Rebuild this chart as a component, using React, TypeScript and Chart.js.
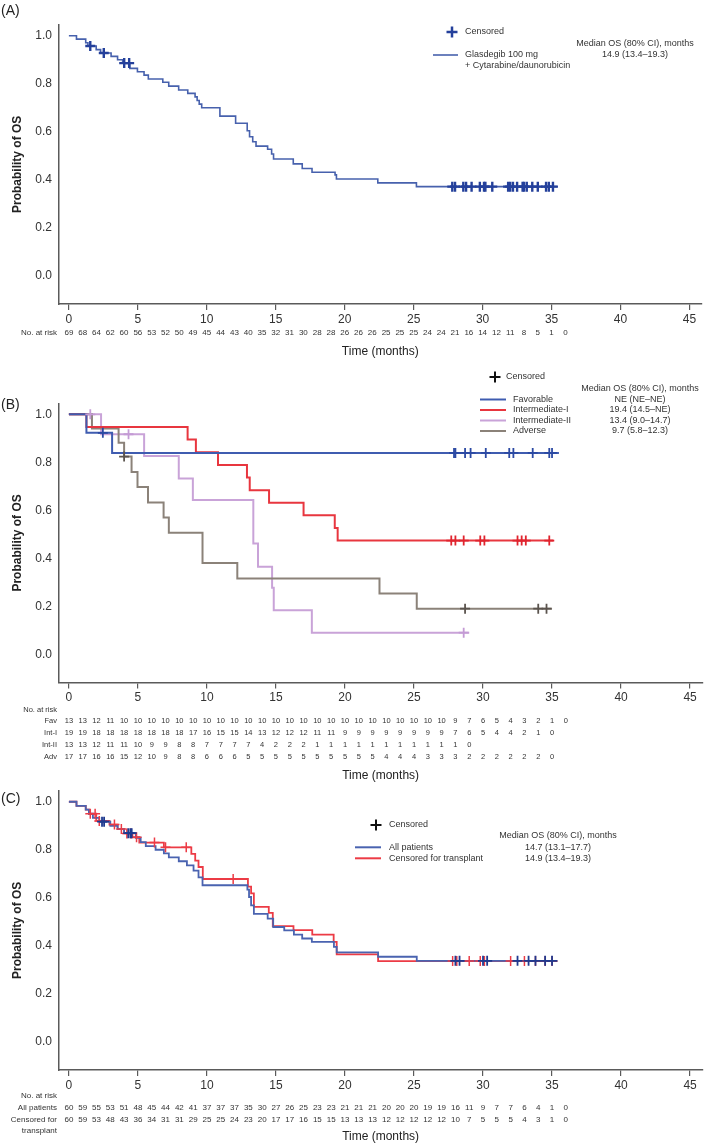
import React, { useEffect, useRef } from "react";
import { Chart, registerables } from "chart.js";

Chart.register(...registerables);

const FONT = "'Liberation Sans', Arial, Helvetica, sans-serif";
Chart.defaults.font.family = FONT;

// ---------------- shared ticks ----------------
const X_TICKS = [0, 5, 10, 15, 20, 25, 30, 35, 40, 45];
const Y_TICKS = [0, 0.2, 0.4, 0.6, 0.8, 1.0];

// ---------------- Panel A: Glasdegib + cytarabine/daunorubicin ----------------
const A_TIMES = [0, 0.55, 1.22, 1.38, 1.98, 2.3, 3.06, 3.53, 3.9, 4.42, 4.97, 5.45, 5.76, 6.81, 7.24, 7.96, 8.62, 9.15, 9.3, 9.45, 9.63, 10.95, 12.09, 12.93, 13.1, 13.33, 13.57, 14.41, 14.7, 14.84, 16.27, 16.92, 17.63, 19.3, 19.4, 22.4, 25.2, 35.4];
const A_SURV = [1.0, 0.986, 0.971, 0.957, 0.942, 0.928, 0.914, 0.9, 0.886, 0.864, 0.85, 0.836, 0.82, 0.806, 0.79, 0.774, 0.76, 0.745, 0.73, 0.715, 0.7, 0.665, 0.635, 0.604, 0.579, 0.558, 0.54, 0.527, 0.507, 0.486, 0.466, 0.447, 0.431, 0.42, 0.403, 0.387, 0.371, 0.371];
const A_CENSOR = [1.55, 2.53, 4.01, 4.37, 27.8, 28.0, 28.6, 28.8, 29.2, 29.8, 30.1, 30.2, 30.7, 31.85, 32.0, 32.2, 32.5, 32.9, 33.0, 33.2, 33.6, 34.0, 34.6, 34.8, 35.1];
const A_AT_RISK = [69, 68, 64, 62, 60, 56, 53, 52, 50, 49, 45, 44, 43, 40, 35, 32, 31, 30, 28, 28, 26, 26, 26, 25, 25, 25, 24, 24, 21, 16, 14, 12, 11, 8, 5, 1, 0];

// ---------------- Panel B: by cytogenetic risk ----------------
const FAV_TIMES = [0, 1.27, 3.13, 35.5];
const FAV_SURV = [1.0, 0.923, 0.839, 0.839];
const FAV_CENSOR = [2.46, 27.9, 28.0, 28.7, 29.1, 30.2, 31.9, 32.2, 33.6, 34.8, 35.0];
const FAV_AT_RISK = [13, 13, 12, 11, 10, 10, 10, 10, 10, 10, 10, 10, 10, 10, 10, 10, 10, 10, 10, 10, 10, 10, 10, 10, 10, 10, 10, 10, 9, 7, 6, 5, 4, 3, 2, 1, 0];

const INT1_TIMES = [0, 1.27, 8.6, 9.2, 10.8, 12.9, 13.1, 14.5, 17.0, 19.26, 19.47, 35.1];
const INT1_SURV = [1.0, 0.947, 0.895, 0.842, 0.789, 0.737, 0.684, 0.632, 0.579, 0.526, 0.474, 0.474];
const INT1_CENSOR = [27.7, 28.0, 28.6, 29.8, 30.1, 32.5, 32.8, 33.1, 34.8];
const INT1_AT_RISK = [19, 19, 18, 18, 18, 18, 18, 18, 18, 17, 16, 15, 15, 14, 13, 12, 12, 12, 11, 11, 9, 9, 9, 9, 9, 9, 9, 9, 7, 6, 5, 4, 4, 2, 1, 0];

const INT2_TIMES = [0, 2.33, 5.45, 7.96, 8.98, 13.36, 13.7, 14.72, 14.84, 17.6, 29.0];
const INT2_SURV = [1.0, 0.917, 0.826, 0.733, 0.643, 0.462, 0.365, 0.277, 0.184, 0.09, 0.09];
const INT2_CENSOR = [1.55, 4.32, 28.6];
const INT2_AT_RISK = [13, 13, 12, 11, 11, 10, 9, 9, 8, 8, 7, 7, 7, 7, 4, 2, 2, 2, 1, 1, 1, 1, 1, 1, 1, 1, 1, 1, 1, 0];

const ADV_TIMES = [0, 1.67, 3.6, 4.0, 4.54, 4.97, 5.73, 6.86, 7.24, 9.68, 12.2, 22.5, 25.2, 35.0];
const ADV_SURV = [1.0, 0.941, 0.882, 0.824, 0.76, 0.697, 0.633, 0.57, 0.506, 0.38, 0.316, 0.253, 0.19, 0.19];
const ADV_CENSOR = [4.0, 28.7, 34.0, 34.6];
const ADV_AT_RISK = [17, 17, 16, 16, 15, 12, 10, 9, 8, 8, 6, 6, 6, 5, 5, 5, 5, 5, 5, 5, 5, 5, 5, 4, 4, 4, 3, 3, 3, 2, 2, 2, 2, 2, 2, 0];

// ---------------- Panel C: all patients vs censored for transplant ----------------
const ALL_TIMES = [0, 0.55, 1.22, 1.45, 1.74, 2.2, 3.0, 3.53, 4.0, 4.85, 5.2, 5.57, 6.28, 6.88, 7.24, 7.96, 8.55, 9.03, 9.39, 9.68, 12.93, 13.05, 13.2, 13.4, 14.4, 14.8, 15.6, 16.3, 16.9, 17.6, 19.2, 19.4, 22.4, 25.2, 35.4];
const ALL_SURV = [1.0, 0.983, 0.967, 0.95, 0.933, 0.917, 0.9, 0.886, 0.869, 0.85, 0.832, 0.815, 0.8, 0.785, 0.768, 0.752, 0.735, 0.713, 0.685, 0.652, 0.634, 0.603, 0.568, 0.533, 0.513, 0.478, 0.464, 0.446, 0.43, 0.416, 0.395, 0.372, 0.354, 0.337, 0.337];
const ALL_CENSOR = [2.4, 2.55, 4.3, 4.45, 4.55, 28.0, 28.3, 30.0, 30.3, 32.5, 33.3, 33.8, 34.5, 35.0];
const ALL_AT_RISK = [60, 59, 55, 53, 51, 48, 45, 44, 42, 41, 37, 37, 37, 35, 30, 27, 26, 25, 23, 23, 21, 21, 21, 20, 20, 20, 19, 19, 16, 11, 9, 7, 7, 6, 4, 1, 0];

const TX_TIMES = [0, 0.55, 1.22, 1.45, 1.98, 2.94, 3.53, 4.0, 4.6, 5.1, 6.88, 8.87, 9.15, 9.39, 9.7, 12.97, 13.2, 13.4, 14.48, 14.77, 16.27, 17.63, 19.18, 19.4, 22.4, 35.4];
const TX_SURV = [1.0, 0.983, 0.967, 0.95, 0.92, 0.905, 0.886, 0.868, 0.852, 0.83, 0.81, 0.783, 0.755, 0.728, 0.678, 0.646, 0.618, 0.562, 0.537, 0.482, 0.465, 0.446, 0.416, 0.364, 0.336, 0.336];
const TX_CENSOR = [1.55, 1.9, 2.2, 3.3, 3.8, 4.2, 4.5, 4.9, 6.2, 7.0, 8.5, 11.9, 27.8, 28.1, 29.0, 29.8, 30.1, 32.0, 33.0, 33.8, 34.5, 35.0];
const TX_AT_RISK = [60, 59, 53, 48, 43, 36, 34, 31, 31, 29, 25, 25, 24, 23, 20, 17, 17, 16, 15, 15, 13, 13, 13, 12, 12, 12, 12, 12, 10, 7, 5, 5, 5, 4, 3, 1, 0];

// ---------------- helpers ----------------
function stepValue(times: number[], surv: number[], t: number) {
  let v = surv[0];
  for (let i = 0; i < times.length; i++) if (times[i] <= t) v = surv[i];
  return v;
}

type Curve = {
  times: number[]; surv: number[]; censor: number[];
  color: string; censorColor: string; width: number; censorWidth: number; censorSize: number;
};
type RiskRow = { label: string[]; values: number[]; y: number };
type Panel = {
  top: number; height: number; areaTop: number; areaBottom: number;
  tag: string; tagY: number;
  curves: Curve[];
  riskHeaderY: number; riskFont: number; risk: RiskRow[]; timeY: number;
  legend: (ctx: CanvasRenderingContext2D, o: number) => void;
};

const X_MIN = -10 / 13.95;
const X_MAX = X_MIN + 650 / 13.95;
const Y_MIN = -0.118;
const Y_MAX = 1.046;
const AXIS = "#5a5a5a";
const TEXT = "#333";

function cross(ctx: CanvasRenderingContext2D, x: number, y: number, r: number, color: string, w: number) {
  ctx.strokeStyle = color; ctx.lineWidth = w; ctx.beginPath();
  ctx.moveTo(x - r, y); ctx.lineTo(x + r, y); ctx.moveTo(x, y - r); ctx.lineTo(x, y + r); ctx.stroke();
}
function seg(ctx: CanvasRenderingContext2D, x1: number, x2: number, y: number, color: string, w: number) {
  ctx.strokeStyle = color; ctx.lineWidth = w; ctx.beginPath(); ctx.moveTo(x1, y); ctx.lineTo(x2, y); ctx.stroke();
}
function txt(ctx: CanvasRenderingContext2D, s: string, x: number, y: number, align: CanvasTextAlign = "left", size = 9) {
  ctx.fillStyle = TEXT; ctx.font = `${size}px ${FONT}`; ctx.textAlign = align; ctx.textBaseline = "middle";
  ctx.fillText(s, x, y);
}

const C_BLUE_A = "#4761ad";
const C_FAV = "#3f5cb0";
const C_INT1 = "#e8363f";
const C_INT2 = "#c9a3d8";
const C_ADV = "#8b8279";
const C_ALL = "#4a63b0";
const C_TX = "#ec3b45";

const PANELS: Panel[] = [
  {
    top: 0, height: 365, areaTop: 24.7, areaBottom: 304,
    tag: "(A)", tagY: 11,
    curves: [
      { times: A_TIMES, surv: A_SURV, censor: A_CENSOR, color: C_BLUE_A, censorColor: "#24409b", width: 1.6, censorWidth: 2.4, censorSize: 5 },
    ],
    riskHeaderY: 333, riskFont: 8,
    risk: [{ label: [], values: A_AT_RISK, y: 333 }],
    timeY: 352,
    legend: (ctx, o) => {
      cross(ctx, 452, 32 - o, 5.5, "#24409b", 2.5);
      txt(ctx, "Censored", 465, 32 - o);
      seg(ctx, 433, 458, 55 - o, C_BLUE_A, 1.6);
      txt(ctx, "Glasdegib 100 mg", 465, 55 - o);
      txt(ctx, "+ Cytarabine/daunorubicin", 465, 66 - o);
      txt(ctx, "Median OS (80% CI), months", 635, 44 - o, "center");
      txt(ctx, "14.9 (13.4–19.3)", 635, 55 - o, "center");
    },
  },
  {
    top: 365, height: 425, areaTop: 403.3, areaBottom: 682.6,
    tag: "(B)", tagY: 405,
    curves: [
      { times: FAV_TIMES, surv: FAV_SURV, censor: FAV_CENSOR, color: C_FAV, censorColor: "#2b49a3", width: 2, censorWidth: 1.8, censorSize: 5 },
      { times: INT1_TIMES, surv: INT1_SURV, censor: INT1_CENSOR, color: C_INT1, censorColor: "#e0242e", width: 2, censorWidth: 1.8, censorSize: 5 },
      { times: ADV_TIMES, surv: ADV_SURV, censor: ADV_CENSOR, color: C_ADV, censorColor: "#5b544e", width: 2, censorWidth: 1.8, censorSize: 5 },
      { times: INT2_TIMES, surv: INT2_SURV, censor: INT2_CENSOR, color: C_INT2, censorColor: "#c49bd5", width: 2, censorWidth: 1.8, censorSize: 5 },
    ],
    riskHeaderY: 710, riskFont: 7.5,
    risk: [
      { label: ["Fav"], values: FAV_AT_RISK, y: 721 },
      { label: ["Int-I"], values: INT1_AT_RISK, y: 733 },
      { label: ["Int-II"], values: INT2_AT_RISK, y: 745 },
      { label: ["Adv"], values: ADV_AT_RISK, y: 757 },
    ],
    timeY: 776,
    legend: (ctx, o) => {
      cross(ctx, 495, 377 - o, 5.5, "#111", 2);
      txt(ctx, "Censored", 506, 377 - o);
      txt(ctx, "Median OS (80% CI), months", 640, 389 - o, "center");
      const rows: [string, string, string, number][] = [
        ["Favorable", "NE (NE–NE)", C_FAV, 399.5],
        ["Intermediate-I", "19.4 (14.5–NE)", C_INT1, 410],
        ["Intermediate-II", "13.4 (9.0–14.7)", C_INT2, 420.5],
        ["Adverse", "9.7 (5.8–12.3)", C_ADV, 431],
      ];
      rows.forEach(([l, v, c, y]) => {
        seg(ctx, 480, 506, y - o, c, 2);
        txt(ctx, l, 513, y - o);
        txt(ctx, v, 640, y - o, "center");
      });
    },
  },
  {
    top: 770, height: 375, areaTop: 790.7, areaBottom: 1070,
    tag: "(C)", tagY: 799,
    curves: [
      { times: ALL_TIMES, surv: ALL_SURV, censor: ALL_CENSOR, color: C_ALL, censorColor: "#1f3a8f", width: 1.8, censorWidth: 1.8, censorSize: 5 },
      { times: TX_TIMES, surv: TX_SURV, censor: TX_CENSOR, color: C_TX, censorColor: "#ec3b45", width: 1.8, censorWidth: 1.5, censorSize: 5 },
    ],
    riskHeaderY: 1096, riskFont: 8,
    risk: [
      { label: ["All patients"], values: ALL_AT_RISK, y: 1108 },
      { label: ["Censored for", "transplant"], values: TX_AT_RISK, y: 1120 },
    ],
    timeY: 1137,
    legend: (ctx, o) => {
      cross(ctx, 376, 825 - o, 5.5, "#111", 2);
      txt(ctx, "Censored", 389, 825 - o);
      txt(ctx, "Median OS (80% CI), months", 558, 836 - o, "center");
      seg(ctx, 355, 381, 847.3 - o, C_ALL, 2);
      txt(ctx, "All patients", 389, 847.3 - o);
      txt(ctx, "14.7 (13.1–17.7)", 558, 847.3 - o, "center");
      seg(ctx, 355, 381, 858.3 - o, C_TX, 2);
      txt(ctx, "Censored for transplant", 389, 858.3 - o);
      txt(ctx, "14.9 (13.4–19.3)", 558, 858.3 - o, "center");
    },
  },
];

function overlayPlugin(p: Panel) {
  return {
    id: "kmOverlay",
    afterDraw(chart: any) {
      const ctx: CanvasRenderingContext2D = chart.ctx;
      const xs = chart.scales.x;
      const o = p.top;
      ctx.save();
      // panel tag
      ctx.fillStyle = "#222";
      ctx.font = `14px ${FONT}`;
      ctx.textAlign = "left";
      ctx.textBaseline = "middle";
      ctx.fillText(p.tag, 1, p.tagY - o);
      // number at risk
      ctx.font = `${p.riskFont}px ${FONT}`;
      ctx.fillStyle = TEXT;
      ctx.textAlign = "right";
      ctx.fillText("No. at risk", 57, p.riskHeaderY - o);
      p.risk.forEach((r) => {
        ctx.textAlign = "right";
        r.label.forEach((ln, k) => ctx.fillText(ln, 57, r.y + k * 11 - o));
        ctx.textAlign = "center";
        r.values.forEach((v, m) => ctx.fillText(String(v), xs.getPixelForValue(m), r.y - o));
      });
      // x title
      ctx.textAlign = "center";
      ctx.font = `12px ${FONT}`;
      ctx.fillStyle = "#222";
      ctx.fillText("Time (months)", (chart.chartArea.left + chart.chartArea.right) / 2, p.timeY - o);
      p.legend(ctx, o);
      ctx.restore();
    },
  };
}

function buildConfig(p: Panel): any {
  const censorSets = p.curves.map((c) => ({
    type: "scatter",
    data: c.censor.map((t) => ({ x: t, y: stepValue(c.times, c.surv, t) })),
    pointStyle: "cross",
    pointRadius: c.censorSize,
    pointHoverRadius: c.censorSize,
    pointBorderColor: c.censorColor,
    pointBackgroundColor: c.censorColor,
    pointBorderWidth: c.censorWidth,
    pointHoverBorderWidth: c.censorWidth,
  }));
  const lineSets = p.curves.map((c) => ({
    type: "line",
    data: c.times.map((t, i) => ({ x: t, y: c.surv[i] })),
    stepped: true,
    borderColor: c.color,
    borderWidth: c.width,
    pointRadius: 0,
    pointHoverRadius: 0,
    fill: false,
    tension: 0,
  }));
  return {
    type: "line",
    data: { datasets: [...censorSets, ...lineSets] },
    options: {
      responsive: false,
      maintainAspectRatio: false,
      animation: false,
      events: [],
      layout: { padding: { top: p.areaTop - p.top, left: 0, right: 0, bottom: 0 } },
      plugins: { legend: { display: false }, tooltip: { enabled: false } },
      scales: {
        x: {
          type: "linear",
          min: X_MIN,
          max: X_MAX,
          afterBuildTicks: (s: any) => { s.ticks = X_TICKS.map((v) => ({ value: v })); },
          afterFit: (s: any) => { s.height = p.top + p.height - p.areaBottom; },
          grid: { display: true, drawOnChartArea: false, drawTicks: true, tickLength: 6, color: AXIS, lineWidth: 1.2 },
          border: { display: true, color: AXIS, width: 1.5 },
          ticks: { font: { family: FONT, size: 12 }, color: TEXT, padding: 2, maxRotation: 0, autoSkip: false, callback: (v: any) => String(v) },
        },
        y: {
          type: "linear",
          min: Y_MIN,
          max: Y_MAX,
          afterBuildTicks: (s: any) => { s.ticks = Y_TICKS.map((v) => ({ value: v })); },
          afterFit: (s: any) => { s.width = 59; },
          grid: { display: false, drawTicks: false },
          border: { display: true, color: AXIS, width: 1.5 },
          ticks: { font: { family: FONT, size: 12 }, color: TEXT, padding: 7, callback: (v: any) => Number(v).toFixed(1) },
          title: { display: true, text: "Probability of OS", color: "#222", font: { family: FONT, size: 12, weight: "bold" }, padding: { top: 10, bottom: 0 } },
        },
      },
    },
    plugins: [overlayPlugin(p)],
  };
}

function KMPanel({ p }: { p: Panel }) {
  const ref = useRef<HTMLCanvasElement>(null);
  useEffect(() => {
    if (!ref.current) return;
    const chart = new Chart(ref.current, buildConfig(p));
    return () => chart.destroy();
  }, [p]);
  return (
    <canvas
      ref={ref}
      width={709}
      height={p.height}
      style={{ position: "absolute", left: 0, top: p.top, width: 709, height: p.height }}
    />
  );
}

export default function App() {
  return (
    <div style={{ position: "absolute", left: 0, top: 0, width: 709, height: 1145, background: "#fff", overflow: "hidden" }}>
      {PANELS.map((p, i) => (
        <KMPanel key={i} p={p} />
      ))}
    </div>
  );
}
